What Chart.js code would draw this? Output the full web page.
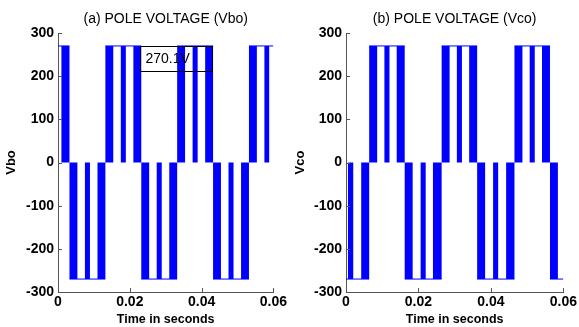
<!DOCTYPE html>
<html><head><meta charset="utf-8">
<script src="https://cdn.jsdelivr.net/npm/chart.js@4.4.0/dist/chart.umd.min.js"></script>
<style>
html,body{margin:0;padding:0;background:#fff;width:579px;height:327px;overflow:hidden}
.box{position:absolute;top:0;height:327px}
canvas{display:block}
</style></head><body>
<div class="box" style="left:0;width:289px"><canvas id="ca" width="289" height="327"></canvas></div>
<div class="box" style="left:289px;width:290px"><canvas id="cb" width="290" height="327"></canvas></div>
<script>
// ---- data (time in seconds, voltage in volts) ----
const LEVEL = 270;
const xTickValues = [0, 0.02, 0.04, 0.06];
const yTickValues = [-300, -200, -100, 0, 100, 200, 300];
const titles = ["(a) POLE VOLTAGE (Vbo)", "(b) POLE VOLTAGE (Vco)"];
const yLabels = ["Vbo", "Vco"];
const xLabel = "Time in seconds";

// (a) Vbo: filled pulse intervals
const posBarsA = [[0.0009,0.0032],[0.0132,0.0154],[0.0175,0.0189],[0.0210,0.0232],[0.0332,0.0354],[0.0375,0.0389],[0.0410,0.0432],[0.0532,0.0554],[0.0575,0.0589]];
const negBarsA = [[0.0032,0.0054],[0.0075,0.0089],[0.0110,0.0132],[0.0232,0.0254],[0.0275,0.0289],[0.0310,0.0332],[0.0432,0.0454],[0.0475,0.0489],[0.0510,0.0532]];
const posGroupsA = [[0,0.0032],[0.0132,0.0232],[0.0332,0.0432],[0.0532,0.06]];
const negGroupsA = [[0.0032,0.0132],[0.0232,0.0332],[0.0432,0.0532]];

// (b) Vco
const posBarsB = [[0.0064,0.0086],[0.0106,0.0120],[0.0140,0.0162],[0.0264,0.0286],[0.0306,0.0320],[0.0340,0.0362],[0.0465,0.0487],[0.0507,0.0521],[0.0541,0.0563]];
const negBarsB = [[0.0005,0.0020],[0.0042,0.0064],[0.0162,0.0184],[0.0206,0.0220],[0.0240,0.0264],[0.0362,0.0384],[0.0406,0.0420],[0.0442,0.0465],[0.0563,0.0585]];
const posGroupsB = [[0.0064,0.0162],[0.0264,0.0362],[0.0465,0.0563]];
const negGroupsB = [[0,0.0064],[0.0162,0.0264],[0.0362,0.0465],[0.0563,0.06]];

// data-tip annotation on (a)
const annotText = "270.1V";
const annotX = [0.0229, 0.0428];
const annotY = [270, 212];

// ---- build ----
const BLUE = 'rgb(0,0,255)';
const AXIS = '#555';
const FONT = '"Liberation Sans", Arial, sans-serif';

function barPoints(pos, neg) {
  const bars = pos.map(b => [b[0], b[1], LEVEL]).concat(neg.map(b => [b[0], b[1], -LEVEL]))
    .sort((p, q) => p[0] - q[0]);
  const pts = [];
  bars.forEach(([a, b, l]) => { pts.push({x:a,y:0},{x:a,y:l},{x:b,y:l},{x:b,y:0}); });
  return pts;
}
function groupPoints(pos, neg) {
  const g = pos.map(s => [s[0], s[1], LEVEL]).concat(neg.map(s => [s[0], s[1], -LEVEL]))
    .sort((p, q) => p[0] - q[0]);
  const pts = [];
  g.forEach(([a, b, l]) => { pts.push({x:a,y:l},{x:b,y:l},{x:b,y:null}); });
  return pts;
}

const decor = {
  id: 'decor',
  afterDatasetsDraw(chart, args, opts) {
    const ctx = chart.ctx, xs = chart.scales.x, ys = chart.scales.y, a = chart.chartArea;
    ctx.save();
    ctx.strokeStyle = AXIS; ctx.lineWidth = 1;
    ctx.beginPath();
    xTickValues.forEach(v => {
      const px = Math.round(xs.getPixelForValue(v)) + 0.5;
      ctx.moveTo(px, a.bottom); ctx.lineTo(px, a.bottom - 4);
    });
    yTickValues.forEach(v => {
      const py = Math.round(ys.getPixelForValue(v)) + 0.5;
      ctx.moveTo(a.left, py); ctx.lineTo(a.left + 4, py);
    });
    ctx.stroke();
    if (opts.annot) {
      const x0 = Math.round(xs.getPixelForValue(annotX[0])) + 0.5;
      const x1 = Math.round(xs.getPixelForValue(annotX[1])) + 0.5;
      const y0 = Math.round(ys.getPixelForValue(annotY[0])) + 0.5;
      const y1 = Math.round(ys.getPixelForValue(annotY[1])) + 0.5;
      ctx.strokeStyle = '#000';
      ctx.strokeRect(x0, y0, x1 - x0, y1 - y0);
      ctx.fillStyle = '#000';
      ctx.font = '14px ' + FONT;
      ctx.textAlign = 'left'; ctx.textBaseline = 'middle';
      ctx.fillText(annotText, x0 + 5, (y0 + y1) / 2 + 0.5);
    }
    ctx.fillStyle = '#000';
    ctx.font = '14px ' + FONT;
    ctx.textAlign = 'center'; ctx.textBaseline = 'middle';
    ctx.fillText(opts.title, (a.left + a.right) / 2, 19);
    ctx.restore();
  }
};

function makeChart(id, pos, neg, posG, negG, idx, yw, padRight) {
  new Chart(document.getElementById(id), {
    type: 'line',
    data: {
      datasets: [
        { data: barPoints(pos, neg), borderColor: 'rgba(0,0,0,0)', backgroundColor: BLUE, borderWidth: 0,
          fill: 'origin', pointRadius: 0, tension: 0 },
        { data: groupPoints(posG, negG), borderColor: BLUE, borderWidth: 1, fill: false,
          pointRadius: 0, tension: 0, spanGaps: false }
      ]
    },
    options: {
      responsive: false, animation: false, events: [],
      layout: { padding: { top: 33, right: padRight, bottom: 0, left: 0 } },
      plugins: { legend: { display: false }, tooltip: { enabled: false }, title: { display: false },
        decor: { title: titles[idx], annot: idx === 0 } },
      scales: {
        x: {
          type: 'linear', min: 0, max: 0.06,
          afterBuildTicks: s => { s.ticks = xTickValues.map(v => ({ value: v })); },
          afterFit: s => { s.height = 35; },
          ticks: { color: '#000', font: { family: FONT, size: 14, weight: 'bold' }, padding: 2,
            maxRotation: 0, autoSkip: false,
            callback: v => String(Number(v.toFixed(2))) },
          grid: { display: true, drawOnChartArea: false, drawTicks: false },
          border: { display: true, color: AXIS, width: 1 },
          title: { display: true, text: xLabel, color: '#000',
            font: { family: FONT, size: 12.5, weight: 'bold' }, padding: { top: 0, bottom: 0 } }
        },
        y: {
          min: -300, max: 300,
          afterBuildTicks: s => { s.ticks = yTickValues.map(v => ({ value: v })); },
          afterFit: s => { s.width = yw; },
          ticks: { color: '#000', font: { family: FONT, size: 14, weight: 'bold' }, padding: 4,
            autoSkip: false },
          grid: { display: true, drawOnChartArea: false, drawTicks: false },
          border: { display: true, color: AXIS, width: 1 },
          title: { display: true, text: yLabels[idx], color: '#000',
            font: { family: FONT, size: 13, weight: 'bold' }, padding: { top: 4, bottom: 0 } }
        }
      }
    },
    plugins: [decor]
  });
}

makeChart('ca', posBarsA, negBarsA, posGroupsA, negGroupsA, 0, 58, 14);
makeChart('cb', posBarsB, negBarsB, posGroupsB, negGroupsB, 1, 57, 15);
</script>
</body></html>
